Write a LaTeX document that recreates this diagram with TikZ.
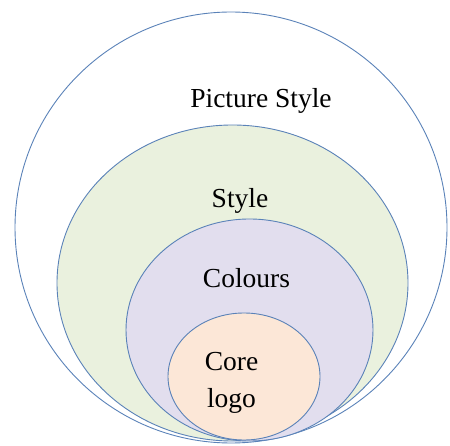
\documentclass[tikz,border=0pt]{standalone}
\usepackage{fontspec}
\setmainfont{Liberation Serif}
\usetikzlibrary{shapes.geometric}
\definecolor{ringline}{HTML}{5A82B8}
\definecolor{stylefill}{HTML}{EAF1DE}
\definecolor{colourfill}{HTML}{E2DEEE}
\definecolor{corefill}{HTML}{FCE7D7}
\tikzset{
  ring/.style={draw=ringline, line width=0.9pt, ellipse, inner sep=0pt},
  ringlabel/.style={font=\fontsize{27.5}{37}\selectfont, align=center, anchor=base, inner sep=0pt}
}
\begin{document}
\begin{tikzpicture}[x=1pt, y=-1pt]
\useasboundingbox (0,0) rectangle (450,446);
\node[ring, minimum width=432pt, minimum height=431pt] (picstyle) at (231,227.5) {};
\node[ring, fill=stylefill, minimum width=351pt, minimum height=316pt] (style) at (232.5,283) {};
\node[ring, fill=colourfill, minimum width=247pt, minimum height=222pt] (colours) at (249.5,330) {};
\node[ring, fill=corefill, minimum width=152pt, minimum height=127pt] (core) at (244,376.5) {};

\node[ringlabel] (picstylelabel) at (261,108) {Picture Style};
\node[ringlabel] (stylelabel) at (240,208) {Style};
\node[ringlabel] (colourslabel) at (246.5,288) {Colours};
\node[ringlabel] (corelabel) at (231.5,407) {Core\\logo};
\end{tikzpicture}
\end{document}
